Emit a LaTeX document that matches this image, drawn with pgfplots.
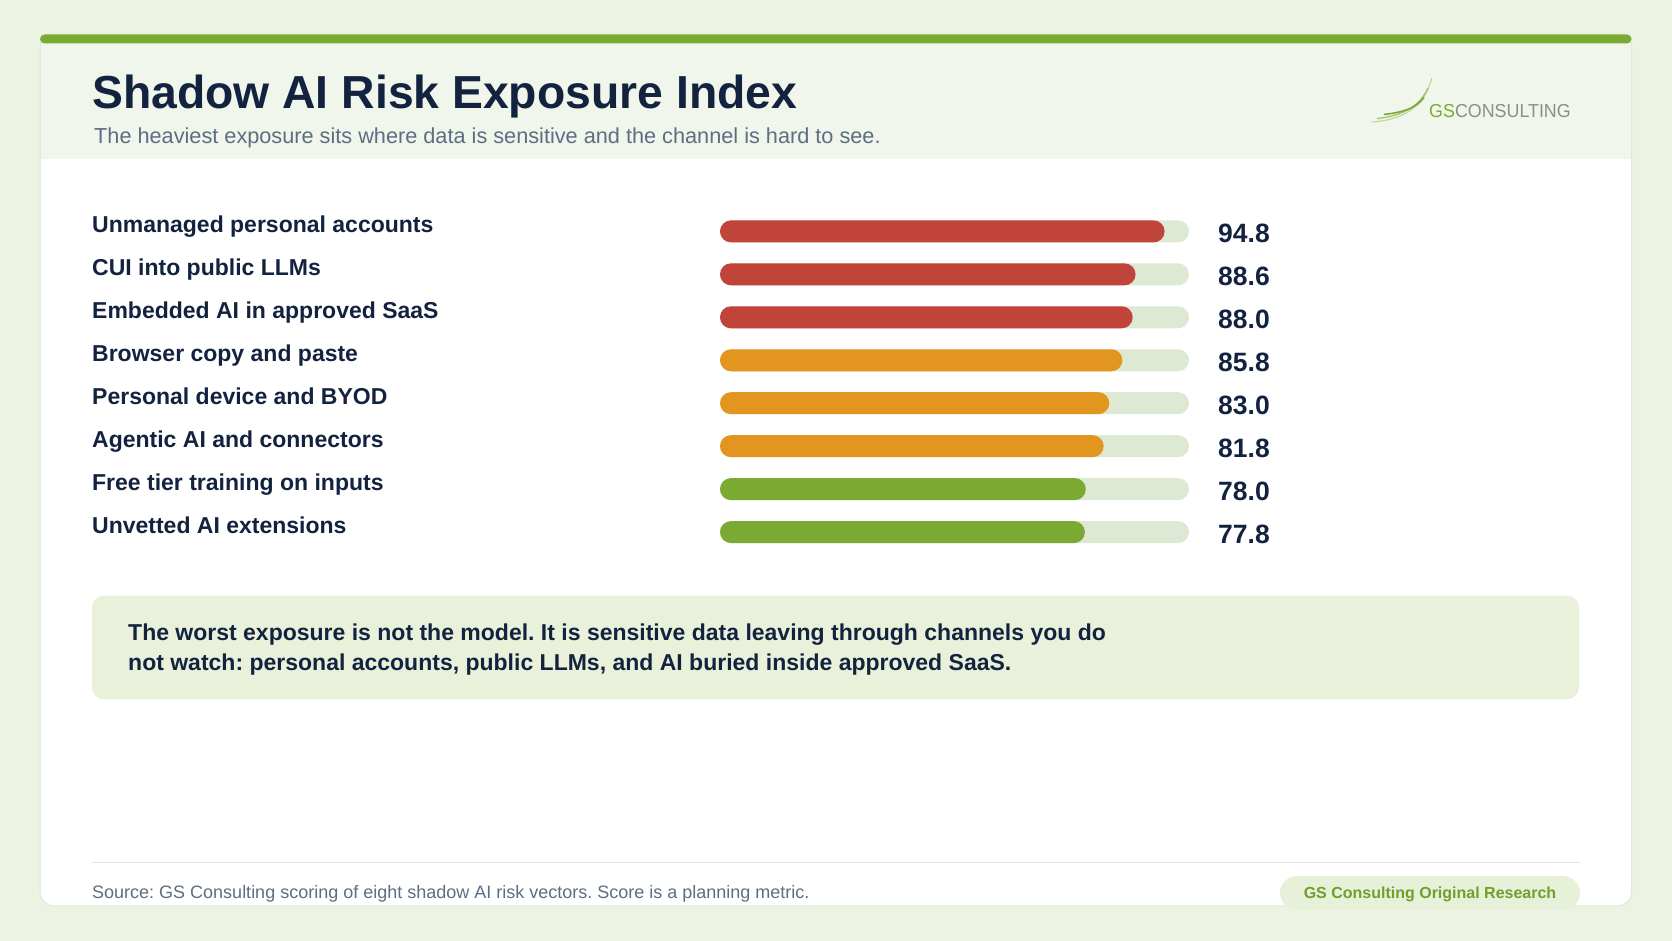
\documentclass[border=0pt]{standalone}
\usepackage{pgfplots}
\pgfplotsset{compat=1.18}
\usepackage{pgfplotstable}
\usepackage{fontspec}
\setmainfont{Liberation Sans}
\frenchspacing
\definecolor{pagebg}{HTML}{ECF3E2}
\definecolor{headerbg}{HTML}{F0F6EB}
\definecolor{cardedge}{HTML}{DFE8D5}
\definecolor{brandgreen}{HTML}{7AAA33}
\definecolor{navy}{HTML}{13233F}
\definecolor{subgray}{HTML}{5E6E82}
\definecolor{barred}{HTML}{C1443B}
\definecolor{barorange}{HTML}{E29620}
\definecolor{bargreen}{HTML}{7BAA32}
\definecolor{track}{HTML}{DDE9D3}
\definecolor{calloutbg}{HTML}{E9F1DA}
\definecolor{badgebg}{HTML}{E7F0D9}
\definecolor{badgetext}{HTML}{6FA02C}
\definecolor{footline}{HTML}{DEE7D5}
\definecolor{logogray}{HTML}{8B8E91}
\definecolor{logogreen}{HTML}{7DAA35}

\pgfplotstableread{
idx full score
0 100 94.8
1 100 88.6
2 100 88.0
3 100 85.8
4 100 83.0
5 100 81.8
6 100 78.0
7 100 77.8
}\scoretable

\begin{document}
\begin{tikzpicture}[x=1pt,y=1pt]
\path[use as bounding box] (0,0) rectangle (1672,941);
\fill[pagebg] (0,0) rectangle (1672,941);
% card
\filldraw[fill=white, draw=cardedge, line width=1pt, rounded corners=14pt] (40,35) rectangle (1631.5,904);
\fill[headerbg] (40,781.5) rectangle (1631.5,899);
\draw[cardedge, line width=1pt] (40,781.5) -- (40,899) (1631.5,781.5) -- (1631.5,899);
\fill[brandgreen, rounded corners=4.5pt] (40,897.5) rectangle (1631.5,906.5);
% title
\node[anchor=base west, inner sep=0pt, text=navy, font=\fontsize{46.3}{52}\selectfont\bfseries] at (92,832.5) {Shadow AI Risk Exposure Index};
\node[anchor=base west, inner sep=0pt, text=subgray, font=\fontsize{21.7}{26}\selectfont] at (94,797.8) {The heaviest exposure sits where data is sensitive and the channel is hard to see.};
% logo
\draw[logogreen!50, line width=1.1pt] (1372,819) .. controls (1405,821) and (1425,836) .. (1431.7,862.7);
\draw[logogreen!72, line width=1.3pt] (1377,822.5) .. controls (1405,825) and (1421,837) .. (1428,853);
\draw[logogreen, line width=1.6pt] (1384,826.5) .. controls (1406,829) and (1417,834) .. (1424,843.5);
\node[anchor=base west, inner sep=0pt, xscale=0.95, font=\fontsize{18.8}{22}\selectfont] at (1429,823.2) {\textcolor{logogreen}{GS}\textcolor{logogray}{CONSULTING}};
% callout
\fill[calloutbg, rounded corners=12pt] (92,241.7) rectangle (1579,345.3);
\node[anchor=base west, inner sep=0pt, text=navy, font=\fontsize{23}{30}\selectfont\bfseries] at (128,300.5) {The worst exposure is not the model. It is sensitive data leaving through channels you do};
\node[anchor=base west, inner sep=0pt, text=navy, font=\fontsize{23}{30}\selectfont\bfseries] at (128,270.5) {not watch: personal accounts, public LLMs, and AI buried inside approved SaaS.};
% footer
\draw[footline, line width=1.5pt] (92,78.3) -- (1580,78.3);
\node[anchor=base west, inner sep=0pt, text=subgray, font=\fontsize{18}{22}\selectfont] at (92,42.3) {Source: GS Consulting scoring of eight shadow AI risk vectors. Score is a planning metric.};
\fill[badgebg, rounded corners=17pt] (1280,31) rectangle (1580,65);
\node[anchor=base, inner sep=0pt, text=badgetext, font=\fontsize{16}{20}\selectfont\bfseries] at (1430,42.3) {GS Consulting Original Research};
% chart
\begin{axis}[
  at={(720pt,387.42pt)}, anchor=south west,
  width=469pt, height=343.66pt, scale only axis,
  xmin=0, xmax=100, ymin=-0.5, ymax=7.5, y dir=reverse,
  enlargelimits=false, clip=false,
  axis line style={draw=none}, major tick length=0pt,
  xtick=\empty, ytick={0,1,2,3,4,5,6,7},
  yticklabels={Unmanaged personal accounts, CUI into public LLMs, Embedded AI in approved SaaS, Browser copy and paste, Personal device and BYOD, Agentic AI and connectors, Free tier training on inputs, Unvetted AI extensions},
  yticklabel style={anchor=base west, inner sep=0pt, xshift=-628pt, yshift=-1.5pt, font=\fontsize{23}{27}\selectfont\bfseries, text=navy},
  xbar, bar width=22pt, bar shift=0pt,
]
\addplot[fill=track, draw=none, rounded corners=11pt, point meta=explicit,
  nodes near coords={\pgfmathprintnumber[fixed,fixed zerofill,precision=1,assume math mode=true]{\pgfplotspointmeta}},
  every node near coord/.append style={anchor=base west, inner sep=0pt, xshift=29pt, yshift=-11.5pt, font=\fontsize{26.5}{30}\selectfont\bfseries, text=navy}]
  table[x=full, y=idx, meta=score] {\scoretable};
\addplot[fill=barred, draw=none, rounded corners=11pt] coordinates {(94.8,0) (88.6,1) (88.0,2)};
\addplot[fill=barorange, draw=none, rounded corners=11pt] coordinates {(85.8,3) (83.0,4) (81.8,5)};
\addplot[fill=bargreen, draw=none, rounded corners=11pt] coordinates {(78.0,6) (77.8,7)};
\end{axis}
\end{tikzpicture}
\end{document}
